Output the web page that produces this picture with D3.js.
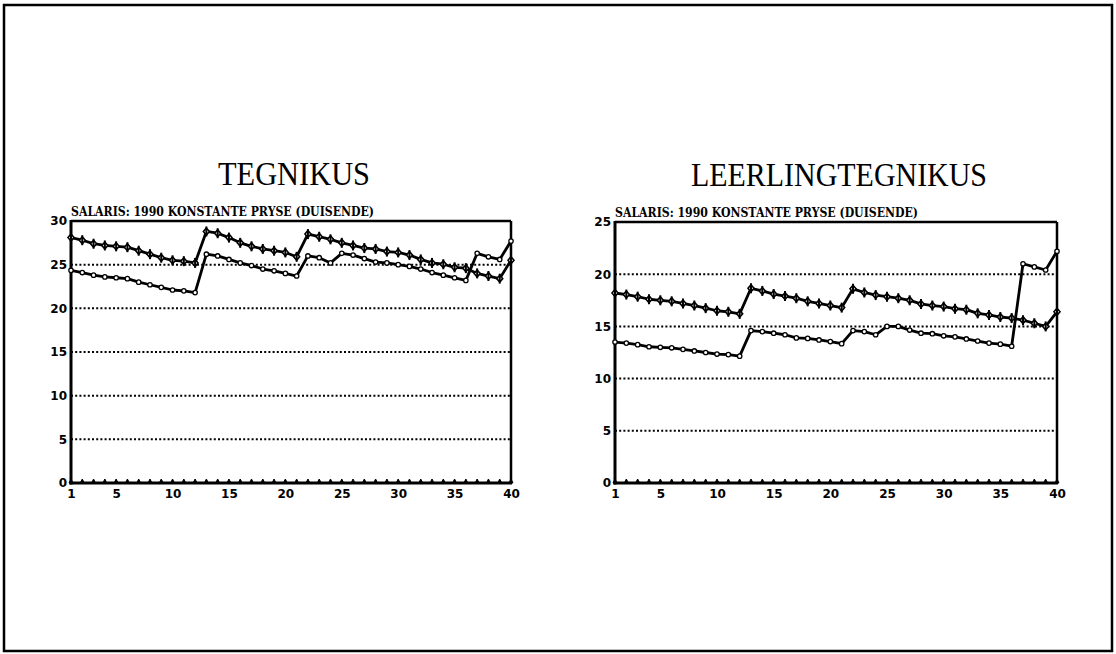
<!DOCTYPE html>
<html>
<head>
<meta charset="utf-8">
<script src="https://cdn.jsdelivr.net/npm/d3@7"></script>
<style>
  html, body { margin: 0; padding: 0; background: #fff; }
  svg { display: block; }
</style>
</head>
<body>
<svg id="chart" width="1116" height="654"></svg>
<script>
// Years of service on the x axis
const years = d3.range(1, 41);
const xTickLabels = [1, 5, 10, 15, 20, 25, 30, 35, 40];

const subtitle = "SALARIS: 1990 KONSTANTE PRYSE (DUISENDE)";

// TEGNIKUS
const tegTitle = "TEGNIKUS";
const tegYTicks = [0, 5, 10, 15, 20, 25, 30];
const tegUpper = [28.1, 27.8, 27.4, 27.2, 27.1, 27.0, 26.6, 26.2, 25.8, 25.5,
                  25.4, 25.2, 28.8, 28.6, 28.1, 27.5, 27.1, 26.8, 26.6, 26.4,
                  25.9, 28.5, 28.2, 27.9, 27.5, 27.2, 26.9, 26.8, 26.5, 26.4,
                  26.1, 25.6, 25.2, 25.05, 24.7, 24.6, 24.0, 23.7, 23.4, 25.5];
const tegLower = [24.35, 24.1, 23.8, 23.6, 23.5, 23.4, 23.0, 22.7, 22.4, 22.1,
                  22.0, 21.8, 26.2, 26.0, 25.6, 25.2, 24.9, 24.5, 24.3, 24.0,
                  23.7, 26.0, 25.8, 25.2, 26.3, 26.1, 25.7, 25.3, 25.2, 25.0,
                  24.8, 24.5, 24.1, 23.8, 23.5, 23.2, 26.3, 25.9, 25.6, 27.7];

// LEERLINGTEGNIKUS
const leerTitle = "LEERLINGTEGNIKUS";
const leerYTicks = [0, 5, 10, 15, 20, 25];
const leerUpper = [18.2, 18.05, 17.85, 17.6, 17.5, 17.4, 17.2, 17.0, 16.75, 16.5,
                   16.4, 16.2, 18.65, 18.4, 18.1, 17.9, 17.7, 17.4, 17.2, 17.0,
                   16.8, 18.6, 18.25, 18.0, 17.85, 17.7, 17.5, 17.15, 17.0, 16.9,
                   16.7, 16.6, 16.25, 16.1, 15.9, 15.8, 15.6, 15.3, 15.0, 16.4];
const leerLower = [13.5, 13.4, 13.25, 13.05, 13.0, 12.95, 12.8, 12.65, 12.5, 12.35,
                   12.3, 12.15, 14.6, 14.5, 14.35, 14.2, 13.9, 13.85, 13.7, 13.55,
                   13.35, 14.6, 14.5, 14.2, 15.0, 15.0, 14.65, 14.35, 14.3, 14.1,
                   14.0, 13.8, 13.6, 13.4, 13.3, 13.1, 21.0, 20.7, 20.4, 22.2];

const svg = d3.select("#chart");

// page border
svg.append("rect")
  .attr("x", 4).attr("y", 5).attr("width", 1108).attr("height", 646)
  .attr("fill", "none").attr("stroke", "#000").attr("stroke-width", 2.5);

function drawPanel(opts) {
  const { left, right, top, bottom, yMax, yTicks, title, titleWidth, upper, lower } = opts;
  const g = svg.append("g");

  const x = d3.scaleLinear().domain([1, 40]).range([left, right]);
  const y = d3.scaleLinear().domain([0, yMax]).range([bottom, top]);

  // title
  g.append("text")
    .attr("x", (left + right) / 2 + 3).attr("y", top - 36)
    .attr("text-anchor", "middle")
    .attr("font-family", "Liberation Serif, serif")
    .attr("font-size", 33)
    .attr("textLength", titleWidth)
    .attr("lengthAdjust", "spacingAndGlyphs")
    .text(title);

  // subtitle
  g.append("text")
    .attr("x", left).attr("y", top - 5)
    .attr("font-family", "DejaVu Serif, serif")
    .attr("font-weight", "bold")
    .attr("font-size", 12)
    .attr("textLength", 303)
    .attr("lengthAdjust", "spacingAndGlyphs")
    .text(subtitle);

  // dotted grid lines
  g.append("g").selectAll("line")
    .data(yTicks.filter(v => v > 0 && v < yMax))
    .join("line")
    .attr("x1", left).attr("x2", right)
    .attr("y1", d => y(d)).attr("y2", d => y(d))
    .attr("stroke", "#000").attr("stroke-width", 2)
    .attr("stroke-dasharray", "2,2.2");

  // y axis labels
  const yAxis = d3.axisLeft(y).tickValues(yTicks).tickSize(0).tickPadding(4);
  const ya = g.append("g").attr("transform", `translate(${left},0)`).call(yAxis);
  ya.select(".domain").remove();
  ya.selectAll("text")
    .attr("font-family", "DejaVu Sans, sans-serif")
    .attr("font-weight", "bold")
    .attr("font-size", 12)
    .attr("fill", "#000");

  // x axis labels
  const xAxis = d3.axisBottom(x).tickValues(xTickLabels).tickSize(0).tickPadding(6)
    .tickFormat(d3.format("d"));
  const xa = g.append("g").attr("transform", `translate(0,${bottom})`).call(xAxis);
  xa.select(".domain").remove();
  xa.selectAll("text")
    .attr("font-family", "DejaVu Sans, sans-serif")
    .attr("font-weight", "bold")
    .attr("font-size", 12)
    .attr("fill", "#000");

  // small triangular tick marks along the bottom
  g.append("g").selectAll("path")
    .data(years)
    .join("path")
    .attr("d", d => `M${x(d) - 2},${bottom} L${x(d)},${bottom - 4} L${x(d) + 2},${bottom} Z`)
    .attr("fill", "#000").attr("stroke", "#000").attr("stroke-width", 1);

  // plot frame
  g.append("line").attr("x1", left).attr("x2", right).attr("y1", top).attr("y2", top)
    .attr("stroke", "#000").attr("stroke-width", 2.5);
  g.append("line").attr("x1", right).attr("x2", right).attr("y1", top).attr("y2", bottom)
    .attr("stroke", "#000").attr("stroke-width", 2.5);
  g.append("line").attr("x1", left).attr("x2", left).attr("y1", top - 1).attr("y2", bottom + 1.5)
    .attr("stroke", "#000").attr("stroke-width", 3);
  g.append("line").attr("x1", left - 1.5).attr("x2", right + 1).attr("y1", bottom).attr("y2", bottom)
    .attr("stroke", "#000").attr("stroke-width", 3);

  const line = d3.line().x((d, i) => x(years[i])).y(d => y(d));

  // lower series with small open circles
  g.append("path").datum(lower).attr("d", line)
    .attr("fill", "none").attr("stroke", "#000").attr("stroke-width", 2.8)
    .attr("stroke-linejoin", "round");
  g.append("g").selectAll("circle")
    .data(lower)
    .join("circle")
    .attr("cx", (d, i) => x(years[i])).attr("cy", d => y(d))
    .attr("r", 2.2)
    .attr("fill", "#fff").attr("stroke", "#000").attr("stroke-width", 1.3);

  // upper series with diamond-and-cross markers
  g.append("path").datum(upper).attr("d", line)
    .attr("fill", "none").attr("stroke", "#000").attr("stroke-width", 2.8)
    .attr("stroke-linejoin", "round");
  const mk = g.append("g").selectAll("g")
    .data(upper)
    .join("g")
    .attr("transform", (d, i) => `translate(${x(years[i])},${y(d)})`);
  mk.append("path")
    .attr("d", "M0,-3.5 L3,0 L0,3.5 L-3,0 Z")
    .attr("fill", "#fff").attr("stroke", "#000").attr("stroke-width", 1.6);
  mk.append("line")
    .attr("x1", 0).attr("x2", 0).attr("y1", -5).attr("y2", 5)
    .attr("stroke", "#000").attr("stroke-width", 2);
}

drawPanel({
  left: 71, right: 511, top: 221, bottom: 483, yMax: 30,
  yTicks: tegYTicks, title: tegTitle, titleWidth: 152,
  upper: tegUpper, lower: tegLower
});

drawPanel({
  left: 615, right: 1057, top: 222, bottom: 483, yMax: 25,
  yTicks: leerYTicks, title: leerTitle, titleWidth: 296,
  upper: leerUpper, lower: leerLower
});
</script>
</body>
</html>
